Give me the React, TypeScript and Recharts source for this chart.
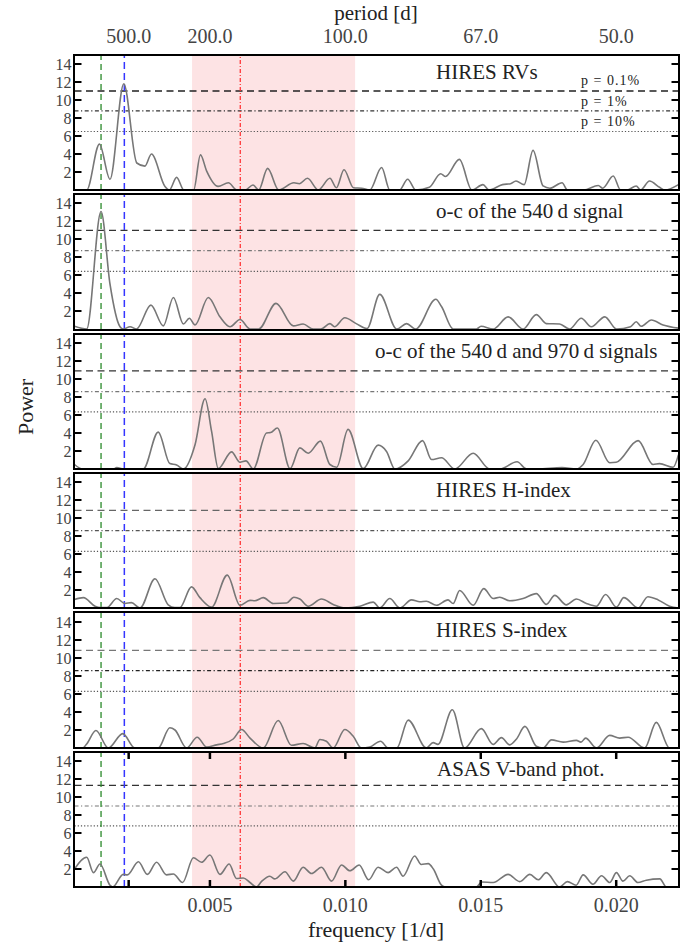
import { LineChart, Line, XAxis, YAxis, ReferenceLine, ReferenceArea } from 'recharts'

const FONT = '"Liberation Serif", "Times New Roman", serif'

// frequency [1/d], power
const rvPts: [number, number][] = [
  [0, 0], [0.00045, 0], [0.00092, 5.1], [0.00131, 1.2], [0.00182, 11.8], [0.0023, 3.0], [0.0026, 2.65],
  [0.00284, 4.0], [0.00334, 0.4], [0.0035, 0], [0.00377, 1.4], [0.00404, 0], [0.0044, 0], [0.00465, 3.9],
  [0.00488, 2.1], [0.0053, 0.4], [0.00568, 0.8], [0.006, 0], [0.0063, 0], [0.00659, 0.55], [0.0068, 0],
  [0.00713, 2.4], [0.00754, 0], [0.0081, 0.8], [0.0083, 0.7], [0.0086, 1.3], [0.009, 0], [0.00943, 1.3],
  [0.00967, 0.25], [0.00995, 2.25], [0.0103, 0.25], [0.0106, 0.2], [0.0109, 0], [0.01134, 2.5], [0.01164, 0],
  [0.012, 0], [0.0123, 1.2], [0.0126, 0], [0.0131, 0.3], [0.01352, 1.8], [0.0137, 1.5], [0.01421, 3.4],
  [0.01467, 0], [0.01508, 0.6], [0.0153, 0], [0.0158, 0.6], [0.0161, 0.7], [0.0163, 1.0], [0.0166, 0.6],
  [0.01693, 4.4], [0.0173, 0.45], [0.01755, 0.2], [0.018, 0.8], [0.0182, 0], [0.0188, 0], [0.01934, 0.5],
  [0.0195, 0.2], [0.01989, 1.55], [0.02016, 0], [0.0204, 0], [0.02074, 0.45], [0.0209, 0], [0.02123, 1.0],
  [0.0216, 0.3], [0.0218, 0], [0.0223, 0.6],
]

const oc1Pts: [number, number][] = [
  [0, 0.3], [0.00045, 0], [0.00098, 13.05], [0.00131, 5.0], [0.00168, 0.25], [0.0018, 0], [0.00205, 0.25],
  [0.00229, 0], [0.00282, 2.65], [0.00328, 0.35], [0.00365, 3.5], [0.00402, 0.55], [0.00424, 1.2],
  [0.00445, 0.45], [0.00494, 3.5], [0.00537, 1.35], [0.00574, 0.25], [0.00611, 1.05], [0.00648, 0],
  [0.0068, 0], [0.00744, 2.85], [0.00808, 0.35], [0.00844, 0.55], [0.00881, 0], [0.0091, 0], [0.00943, 0.6],
  [0.0096, 0.25], [0.00998, 1.25], [0.0104, 0.6], [0.0108, 0.05], [0.01127, 3.85], [0.0119, 0],
  [0.01226, 0.6], [0.0126, 0], [0.01334, 3.3], [0.01355, 2.5], [0.01398, 0], [0.01484, 0], [0.01501, 0.3],
  [0.01546, 0], [0.01601, 1.35], [0.01656, 0], [0.01705, 1.6], [0.01742, 0.6], [0.01791, 0.55], [0.01828, 0],
  [0.01871, 1.2], [0.01908, 0.25], [0.01958, 1.35], [0.02001, 0], [0.02053, 0.25], [0.02074, 0.8],
  [0.02092, 0.3], [0.0213, 1.0], [0.02173, 0.45], [0.0223, 0.1],
]

const oc2Pts: [number, number][] = [
  [0, 0.5], [0.0003, 0], [0.00143, 0], [0.00156, 0.15], [0.0018, 0], [0.00254, 0], [0.00309, 4.1],
  [0.00352, 0.6], [0.00377, 0.45], [0.00402, 0], [0.00445, 2.7], [0.00482, 7.8], [0.00506, 4.2],
  [0.00531, 0.05], [0.0058, 1.9], [0.00611, 0.75], [0.00633, 0.9], [0.0066, 0], [0.00709, 4.0],
  [0.00724, 4.05], [0.00749, 4.55], [0.00796, 0.05], [0.00832, 2.35], [0.00863, 1.75], [0.00908, 3.1],
  [0.00943, 0.5], [0.00968, 0.2], [0.0101, 4.4], [0.01066, 0.05], [0.01121, 2.65], [0.01152, 1.95],
  [0.01183, 0], [0.01232, 0.9], [0.01285, 3.15], [0.01318, 1.05], [0.01355, 1.25], [0.01404, 0],
  [0.01472, 1.75], [0.01533, 0], [0.01571, 0], [0.01634, 0.8], [0.01669, 0], [0.0171, 0], [0.018, 0.15],
  [0.01853, 0], [0.01878, 0.5], [0.01925, 3.2], [0.01976, 0.7], [0.02, 0.75], [0.02081, 3.15],
  [0.02136, 0.5], [0.0216, 0.6], [0.0221, 0.2], [0.0223, 1.6],
]

const hPts: [number, number][] = [
  [0, 0.95], [0.00033, 1.15], [0.00076, 0.2], [0.00095, 0.05], [0.0012, 0.05], [0.00156, 1.05],
  [0.00186, 0.5], [0.0021, 0.6], [0.00242, 0], [0.00297, 3.25], [0.00346, 0.35], [0.0037, 0.05],
  [0.00389, 0.05], [0.00432, 2.35], [0.00463, 1.15], [0.00506, 0.1], [0.00564, 3.65], [0.00611, 0.3],
  [0.00648, 0.85], [0.00666, 0.8], [0.00697, 1.15], [0.00734, 0.5], [0.00783, 0.55], [0.0081, 1.2],
  [0.00832, 1.0], [0.00863, 0.2], [0.00912, 1.0], [0.00955, 0.4], [0.00998, 0], [0.01054, 0.2],
  [0.01103, 0.65], [0.01127, 0], [0.01164, 1.05], [0.01201, 0], [0.01244, 0.9], [0.01275, 0.7],
  [0.01299, 0.75], [0.01336, 0.3], [0.01379, 0.9], [0.01398, 0.5], [0.01422, 1.95], [0.01472, 0.3],
  [0.01511, 2.15], [0.01546, 1.05], [0.0157, 1.2], [0.01607, 0.8], [0.01656, 1.05], [0.01705, 1.6],
  [0.01742, 0.4], [0.01773, 1.4], [0.01816, 0.35], [0.01853, 1.0], [0.0189, 0.5], [0.01927, 0.2],
  [0.01961, 1.5], [0.02001, 0.1], [0.02028, 1.15], [0.02081, 0], [0.02117, 1.25], [0.02155, 0.9],
  [0.02197, 0.2], [0.0223, 0],
]

const sPts: [number, number][] = [
  [0, 0], [0.0003, 0], [0.00045, 0.45], [0.00079, 1.95], [0.00125, 0], [0.00178, 1.6], [0.00223, 0],
  [0.00309, 0], [0.00352, 2.25], [0.00371, 2.0], [0.00414, 0], [0.00453, 1.2], [0.00488, 0.1],
  [0.00525, 0.35], [0.0055, 0.5], [0.00586, 1.0], [0.00617, 2.05], [0.00648, 1.1], [0.00697, 0],
  [0.00752, 3.05], [0.00801, 0.3], [0.00844, 0.5], [0.00887, 0], [0.00906, 0.95], [0.0093, 0.75],
  [0.00955, 0], [0.00998, 2.05], [0.01029, 1.3], [0.01059, 0], [0.0109, 0.1], [0.0113, 0.75], [0.01158, 0],
  [0.0119, 0], [0.01232, 3.1], [0.01299, 0], [0.01324, 0.6], [0.01342, 0.4], [0.01395, 4.25], [0.0144, 0],
  [0.01502, 2.15], [0.01546, 0.4], [0.01576, 1.15], [0.01607, 0.35], [0.01632, 1.0], [0.01663, 2.4],
  [0.01705, 0.2], [0.0173, 0], [0.01761, 0.9], [0.01804, 0.65], [0.01853, 0.85], [0.0187, 0.65],
  [0.01887, 1.1], [0.01927, 0], [0.01976, 1.4], [0.02013, 1.1], [0.02044, 1.2], [0.02105, 0],
  [0.02148, 2.85], [0.02197, 0], [0.0223, 0],
]

const asasPts: [number, number][] = [
  [0, 2.0], [0.00045, 3.3], [0.0007, 1.6], [0.00094, 2.55], [0.00131, 0.2], [0.00141, 0], [0.0018, 1.4],
  [0.00195, 1.35], [0.00236, 2.8], [0.00269, 1.4], [0.00303, 2.75], [0.0034, 1.35], [0.00365, 1.45],
  [0.00399, 0.5], [0.00439, 3.25], [0.00469, 2.75], [0.005, 3.55], [0.00537, 1.4], [0.00571, 2.55],
  [0.00598, 0.95], [0.00623, 1.0], [0.00648, 0.5], [0.00672, 0], [0.0069, 0.6], [0.00721, 1.2],
  [0.0074, 0.9], [0.00777, 1.7], [0.00808, 0.65], [0.00844, 2.2], [0.00875, 1.5], [0.00912, 2.2],
  [0.00949, 0.65], [0.00986, 2.45], [0.01017, 1.8], [0.01051, 2.45], [0.01086, 0.8], [0.01121, 2.2],
  [0.01158, 1.6], [0.01189, 2.2], [0.01213, 1.2], [0.01256, 3.45], [0.0128, 2.5], [0.01306, 2.6],
  [0.01325, 2.0], [0.01355, 0.2], [0.0137, 0], [0.01484, 0], [0.01503, 0.55], [0.01546, 0.5],
  [0.01601, 1.4], [0.01644, 0.6], [0.01681, 1.4], [0.01712, 0.8], [0.01742, 1.6], [0.01791, 0],
  [0.0182, 0.6], [0.01852, 0.2], [0.01878, 1.35], [0.01914, 0.3], [0.01946, 1.25], [0.01976, 0.5],
  [0.02001, 1.6], [0.02025, 0.65], [0.0205, 1.25], [0.0208, 0.5], [0.02111, 0.75], [0.02161, 0.9],
  [0.02185, 0], [0.0223, 0],
]

const titles = [
  'HIRES RVs',
  'o-c of the 540\u2009d signal',
  'o-c of the 540\u2009d and 970\u2009d signals',
  'HIRES H-index',
  'HIRES S-index',
  'ASAS V-band phot.',
]
const titleX = [436, 436, 375, 436, 436, 437]
const series = [rvPts, oc1Pts, oc2Pts, hPts, sPts, asasPts]

// false-alarm levels p = 0.1%, 1%, 10%
const fap01 = [11.0, 10.95, 10.9, 10.85, 10.85, 11.3]
const fap1 = [8.8, 8.7, 8.6, 8.6, 8.6, 9.0]
const fap10 = [6.5, 6.4, 6.35, 6.3, 6.3, 6.8]
const fapLabels = ['p = 0.1%', 'p = 1%', 'p = 10%']

const dashedColor = ['#222', '#333', '#333', '#666', '#777', '#333']
const dashDotColor = ['#333', '#777', '#777', '#555', '#222', '#777']

const fGreen = 0.00098
const fBlue = 0.00184
const fRed = 0.00612
const bandFrom = 0.00434
const bandTo = 0.01036

const freqTicks = [0.002, 0.005, 0.01, 0.015, 0.02]
const freqLabels: Record<number, string> = { 0.005: '0.005', 0.01: '0.010', 0.015: '0.015', 0.02: '0.020' }
const periodLabels: Record<number, string> = { 0.002: '500.0', 0.005: '200.0', 0.01: '100.0', 0.015: '67.0', 0.02: '50.0' }
const powerTicks = [2, 4, 6, 8, 10, 12, 14]

const XMAX = 0.0223
const PL = 74.5
const PR = 678.5
const PH = 135
const TOPS = [55, 194.4, 333.8, 473.2, 612.6, 752]
const TOP_AX = 55
const PAD = 12
const BOT_AX = 59

function Panel({ i }: { i: number }) {
  const first = i === 0
  const last = i === 5
  const plotTop = first ? TOP_AX : PAD
  const plotBottom = plotTop + PH
  const h = plotTop + PH + (last ? BOT_AX : 0)
  const data = series[i].map(([f, p]) => ({ f, p }))

  const yTick = (props: any) => {
    const { y, payload } = props
    return (
      <g>
        <line x1={PL} x2={PL + 7} y1={y} y2={y} stroke="#000" strokeWidth={2} />
        <line x1={PR - 7} x2={PR} y1={y} y2={y} stroke="#000" strokeWidth={2} />
        <text x={PL - 3} y={y + 5.5} textAnchor="end" fontSize={16} fill="#444" fontFamily={FONT}>
          {payload.value}
        </text>
      </g>
    )
  }

  const xTick = (props: any) => {
    const { x, payload } = props
    const lab = last ? freqLabels[payload.value] : undefined
    return (
      <g>
        <line x1={x} x2={x} y1={plotTop} y2={plotTop + 7} stroke="#000" strokeWidth={2.5} />
        <line x1={x} x2={x} y1={plotBottom - 7} y2={plotBottom} stroke="#000" strokeWidth={2.5} />
        {lab && (
          <text x={x} y={plotBottom + 25} textAnchor="middle" fontSize={20} fill="#444" fontFamily={FONT}>
            {lab}
          </text>
        )}
      </g>
    )
  }

  const topTick = (props: any) => {
    const { x, payload } = props
    return (
      <text x={x} y={43} textAnchor="middle" fontSize={20} fill="#444" fontFamily={FONT}>
        {periodLabels[payload.value]}
      </text>
    )
  }

  return (
    <div style={{ position: 'absolute', left: 0, top: TOPS[i] - plotTop }}>
      <LineChart
        width={698}
        height={h}
        data={data}
        margin={{ top: first ? 0 : PAD, right: 698 - PR, bottom: 0, left: 0 }}
      >
        {first && (
          <XAxis
            xAxisId="t"
            orientation="top"
            type="number"
            dataKey="f"
            domain={[0, XMAX]}
            ticks={freqTicks}
            interval={0}
            allowDataOverflow
            axisLine={false}
            tickLine={false}
            height={TOP_AX}
            tick={topTick}
          />
        )}
        <XAxis
          xAxisId="b"
          type="number"
          dataKey="f"
          domain={[0, XMAX]}
          ticks={freqTicks}
          interval={0}
          allowDataOverflow
          axisLine={false}
          tickLine={false}
          height={last ? BOT_AX : 0}
          tick={xTick}
        />
        <YAxis
          type="number"
          domain={[0, 15]}
          ticks={powerTicks}
          interval={0}
          allowDataOverflow
          axisLine={false}
          tickLine={false}
          width={PL}
          tick={yTick}
        />
        <ReferenceArea xAxisId="b" x1={bandFrom} x2={bandTo} fill="#fde3e4" fillOpacity={1} stroke="none" />
        <ReferenceLine xAxisId="b" y={fap01[i]} stroke={dashedColor[i]} strokeWidth={1.3} strokeDasharray="7 4.5" />
        <ReferenceLine xAxisId="b" y={fap1[i]} stroke={dashDotColor[i]} strokeWidth={1.2} strokeDasharray="4 2.5 1.2 2.5" />
        <ReferenceLine xAxisId="b" y={fap10[i]} stroke="#555" strokeWidth={1.2} strokeDasharray="1.2 2" />
        <ReferenceLine xAxisId="b" x={fGreen} stroke="#2a8a2a" strokeWidth={1.3} strokeDasharray="6 4" />
        <ReferenceLine xAxisId="b" x={fBlue} stroke="#3535ff" strokeWidth={1.5} strokeDasharray="7 4" />
        <ReferenceLine xAxisId="b" x={fRed} stroke="#ff2a2a" strokeWidth={1.2} strokeDasharray="4 2 1 2" />
        <Line
          xAxisId="b"
          type="monotone"
          dataKey="p"
          stroke="#777"
          strokeWidth={1.6}
          dot={false}
          isAnimationActive={false}
        />
      </LineChart>
      <div
        style={{
          position: 'absolute',
          left: PL - 1.25,
          top: plotTop - 1.25,
          width: PR - PL + 2.5,
          height: PH + 2.5,
          border: '2.5px solid #000',
          boxSizing: 'border-box',
          pointerEvents: 'none',
        }}
      />
    </div>
  )
}

export default function App() {
  return (
    <div style={{ position: 'absolute', left: 0, top: 0, width: 698, height: 946, background: '#fff' }}>
      {titles.map((_, i) => (
        <Panel key={i} i={i} />
      ))}
      <svg
        width={698}
        height={946}
        style={{ position: 'absolute', left: 0, top: 0, pointerEvents: 'none' }}
        fontFamily={FONT}
      >
        <text x={376} y={20} textAnchor="middle" fontSize={21} fill="#222">period [d]</text>
        <text x={376} y={937} textAnchor="middle" fontSize={22} fill="#222">frequency [1/d]</text>
        <text x={0} y={0} transform="translate(33 407) rotate(-90)" textAnchor="middle" fontSize={22} fill="#222">
          Power
        </text>
        {titles.map((t, i) => (
          <text key={t} x={titleX[i]} y={TOPS[i] + 24} fontSize={21} fill="#222">
            {t}
          </text>
        ))}
        {fapLabels.map((t, k) => (
          <text key={t} x={581} y={85 + k * 20.5} fontSize={14} letterSpacing={1} fill="#222">
            {t}
          </text>
        ))}
      </svg>
    </div>
  )
}
